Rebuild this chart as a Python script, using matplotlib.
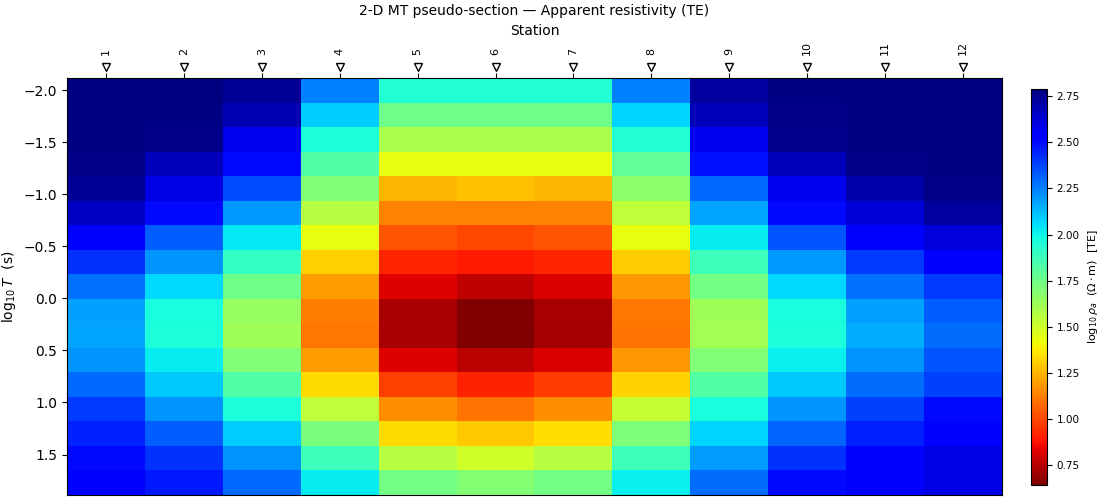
import numpy as np
import matplotlib
matplotlib.use('Agg')
import matplotlib.pyplot as plt

stations = [1, 2, 3, 4, 5, 6, 7, 8, 9, 10, 11, 12]
log_period = [-2.0, -1.764, -1.529, -1.293, -1.057, -0.821, -0.586, -0.350, -0.114,
              0.121, 0.357, 0.593, 0.829, 1.064, 1.300, 1.536, 1.771]

# log10 apparent resistivity, one list per station (short -> long period)
st01 = [2.79, 2.78, 2.78, 2.77, 2.74, 2.66, 2.55, 2.42, 2.28, 2.18, 2.17, 2.21, 2.30, 2.40, 2.45, 2.50, 2.54]
st02 = [2.79, 2.78, 2.77, 2.68, 2.60, 2.50, 2.32, 2.21, 2.06, 1.97, 1.96, 2.02, 2.10, 2.21, 2.32, 2.42, 2.47]
st03 = [2.74, 2.69, 2.58, 2.50, 2.36, 2.20, 2.03, 1.90, 1.75, 1.64, 1.62, 1.70, 1.83, 1.96, 2.09, 2.21, 2.30]
st04 = [2.25, 2.09, 1.96, 1.82, 1.70, 1.56, 1.43, 1.31, 1.19, 1.12, 1.11, 1.19, 1.33, 1.54, 1.72, 1.88, 2.02]
st05 = [1.95, 1.75, 1.59, 1.43, 1.25, 1.13, 1.03, 0.92, 0.82, 0.72, 0.72, 0.82, 0.98, 1.16, 1.33, 1.56, 1.74]
st06 = [1.95, 1.75, 1.59, 1.43, 1.27, 1.13, 1.00, 0.90, 0.76, 0.64, 0.64, 0.75, 0.91, 1.10, 1.29, 1.50, 1.69]
st07 = [1.95, 1.75, 1.59, 1.43, 1.25, 1.13, 1.03, 0.92, 0.81, 0.72, 0.71, 0.81, 0.97, 1.16, 1.34, 1.56, 1.74]
st08 = [2.25, 2.07, 1.95, 1.79, 1.67, 1.54, 1.43, 1.30, 1.18, 1.11, 1.10, 1.18, 1.32, 1.53, 1.71, 1.88, 2.01]
st09 = [2.73, 2.68, 2.58, 2.48, 2.30, 2.17, 2.02, 1.88, 1.74, 1.62, 1.61, 1.70, 1.82, 1.97, 2.07, 2.19, 2.29]
st10 = [2.78, 2.77, 2.76, 2.68, 2.58, 2.50, 2.34, 2.20, 2.06, 1.97, 1.96, 2.01, 2.10, 2.21, 2.31, 2.42, 2.50]
st11 = [2.79, 2.78, 2.78, 2.77, 2.71, 2.63, 2.55, 2.40, 2.28, 2.18, 2.16, 2.21, 2.29, 2.38, 2.45, 2.55, 2.55]
st12 = [2.79, 2.79, 2.78, 2.78, 2.77, 2.73, 2.62, 2.55, 2.40, 2.32, 2.29, 2.34, 2.38, 2.50, 2.55, 2.60, 2.60]

rho = np.array([st01, st02, st03, st04, st05, st06, st07, st08, st09, st10, st11, st12]).T

x = np.array(stations, dtype=float)
y = np.array(log_period)
xe = np.concatenate([[x[0] - 0.5], (x[:-1] + x[1:]) / 2, [x[-1] + 0.5]])
dy = y[1] - y[0]
ye = np.concatenate([[y[0] - dy / 2], (y[:-1] + y[1:]) / 2, [y[-1] + dy / 2]])

fig = plt.figure(figsize=(11, 5), dpi=100)
ax = fig.add_axes([67/1100, 5/500, 935/1100, 417/500])
pc = ax.pcolormesh(xe, ye, rho, cmap='jet_r', vmin=rho.min(), vmax=rho.max(), shading='flat')
ax.set_xlim(xe[0], xe[-1])
ax.set_ylim(ye[-1], ye[0])

ax.xaxis.set_ticks_position('top')
ax.xaxis.set_label_position('top')
ax.set_xticks(stations)
ax.set_xticklabels([str(s) for s in stations])
ax.tick_params(axis='x', labelsize=8, labelrotation=90, pad=13)
ax.set_xlabel('Station', fontsize=10, labelpad=4.5)
ax.set_ylabel(r'$\log_{10}T$  (s)', fontsize=10)
ax.tick_params(axis='y', labelsize=10)
ax.set_title('2-D MT pseudo-section — Apparent resistivity (TE)', fontsize=10, pad=6)

# station markers
ax.plot(x, np.full(len(x), 1.026), 'v', ms=6, mfc='white', mec='black', mew=1.0,
        transform=ax.get_xaxis_transform(), clip_on=False, zorder=5)

cax = fig.add_axes([1031/1100, 15/500, 16/1100, 396/500])
cb = fig.colorbar(pc, cax=cax)
cb.ax.tick_params(labelsize=7.5)
cb.set_label(r'$\log_{10}\rho_a$  ($\Omega\cdot$m)  [TE]', fontsize=8)

fig.savefig('out.png', dpi=100)
